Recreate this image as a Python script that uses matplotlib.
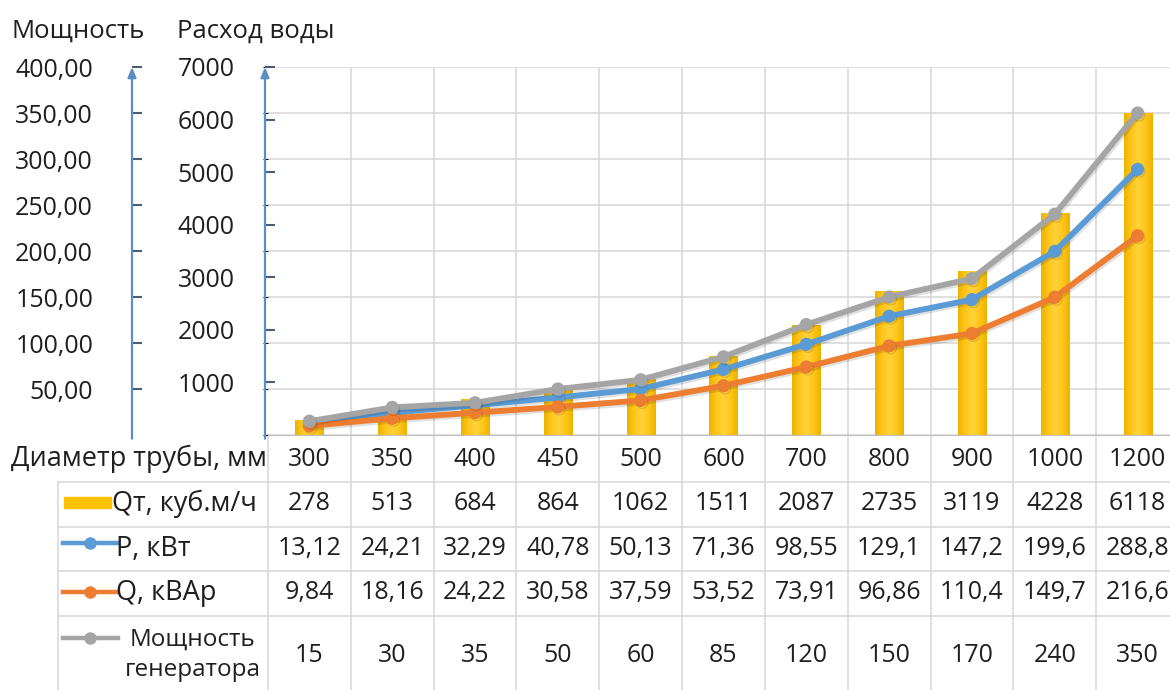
import numpy as np
import matplotlib.pyplot as plt
import matplotlib.patheffects as pe
from matplotlib import transforms
from matplotlib.colors import LinearSegmentedColormap

plt.rcParams['font.family'] = ['Open Sans', 'DejaVu Sans']

# данные по диаметрам труб
diam = ['300', '350', '400', '450', '500', '600', '700', '800', '900', '1000', '1200']
q_water = [278, 513, 684, 864, 1062, 1511, 2087, 2735, 3119, 4228, 6118]
p_kw = [13.12, 24.21, 32.29, 40.78, 50.13, 71.36, 98.55, 129.1, 147.2, 199.6, 288.8]
q_kvar = [9.84, 18.16, 24.22, 30.58, 37.59, 53.52, 73.91, 96.86, 110.4, 149.7, 216.6]
gen_power = [15, 30, 35, 50, 60, 85, 120, 150, 170, 240, 350]

power_ticks = [50, 100, 150, 200, 250, 300, 350, 400]
water_ticks = [1000, 2000, 3000, 4000, 5000, 6000, 7000]

W, H = 1170, 690
x0, x1, y_top, y_bot = 268, 1179, 67, 435

GOLD = '#FFC000'
BLUE = '#5B9BD5'
ORANGE = '#ED7D31'
GREY = '#A5A5A5'
AXIS_BLUE = '#5B8FC4'
GRID = '#D9D9D9'
TXT = '#1F1F1F'
FS = 18      # числа
FS_LAB = 19.5  # подписи строк


def fmt(v):
    return str(v).replace('.', ',')


fig = plt.figure(figsize=(W / 100, H / 100), dpi=100)

# слой для таблицы и подписей в пикселях
tab = fig.add_axes([0, 0, 1, 1])
tab.set_xlim(0, W)
tab.set_ylim(H, 0)
tab.axis('off')

# основная область: столбцы расхода воды
ax = fig.add_axes([x0 / W, (H - y_bot) / H, (x1 - x0) / W, (y_bot - y_top) / H])
x = np.arange(len(diam))
bars = ax.bar(x, q_water, width=0.34, color=GOLD, zorder=2)

grad = LinearSegmentedColormap.from_list('gold', ['#EDB300', '#FFC61A', '#FFD23A', '#FFC61A', '#EDB300'])
for b in bars:
    bx, by = b.get_x(), b.get_y()
    im = ax.imshow(np.linspace(0, 1, 64).reshape(1, -1), cmap=grad, aspect='auto',
                   extent=(bx, bx + b.get_width(), by, by + b.get_height()), zorder=2.5)
    im.set_clip_path(b)
ax.set_xlim(-0.5, 10.5)
ax.set_ylim(0, 7000)

ax.set_yticks(np.linspace(0, 7000, 9))
ax.set_xticks(np.arange(0.5, 10.5, 1), minor=True)
ax.set_xticks([])
ax.grid(True, axis='y', color=GRID, lw=1.2, zorder=0)
ax.grid(True, axis='x', which='minor', color=GRID, lw=1.2, zorder=0)
ax.tick_params(left=False, labelleft=False, which='both', bottom=False)
for s in ['top', 'right', 'left']:
    ax.spines[s].set_visible(False)
ax.spines['bottom'].set_color('#BFBFBF')
ax.set_axisbelow(True)

# линии мощностей
axl = ax.twinx()
axl.set_ylim(0, 400)
axl.axis('off')
shadow = [pe.SimpleLineShadow(offset=(1, -1.5), shadow_color='k', alpha=0.12), pe.Normal()]
for vals, col in [(p_kw, BLUE), (q_kvar, ORANGE), (gen_power, GREY)]:
    axl.plot(x, vals, color=col, lw=4.2, marker='o', ms=8.5, path_effects=shadow,
             solid_capstyle='round', clip_on=False)
axl.set_xlim(-0.5, 10.5)


def side_axis(xpx, ymax, ticks, labels, pad):
    a = fig.add_axes([xpx / W, (H - y_bot) / H, 0.0001, (y_bot - y_top) / H])
    a.set_ylim(0, ymax)
    a.set_xticks([])
    a.set_yticks(ticks)
    a.set_yticklabels(labels)
    a.tick_params(axis='y', direction='in', length=7.5, width=1.5, color='#4A5D78',
                  pad=pad, labelsize=FS, labelcolor=TXT)
    for s in a.spines.values():
        s.set_visible(False)
    a.patch.set_visible(False)
    a.annotate('', xy=(0, 1.0), xytext=(0, -0.01), xycoords='axes fraction',
               arrowprops=dict(arrowstyle='-|>,head_length=0.6,head_width=0.25',
                               color=AXIS_BLUE, lw=1.6, shrinkA=0, shrinkB=0))
    return a


side_axis(132, 400, power_ticks, [fmt('%.2f' % t) for t in power_ticks], 28)
side_axis(265, 7000, water_ticks, [str(t) for t in water_ticks], 22)

tab.text(12, 31, 'Мощность', fontsize=18.5, color=TXT, va='center')
tab.text(177, 31, 'Расход воды', fontsize=18.5, color=TXT, va='center')

# таблица данных под графиком
tr = transforms.blended_transform_factory(ax.transData, tab.transData)
rows_y = [482, 527, 571, 616]
for yy in rows_y:
    tab.plot([58, W], [yy, yy], color=GRID, lw=1.2)
tab.plot([58, 58], [482, H], color=GRID, lw=1.2)
tab.plot([x0, x0], [y_bot, H], color=GRID, lw=1.2)
for b in np.arange(0.5, 10.5, 1):
    tab.plot([b, b], [y_bot, H], color=GRID, lw=1.2, transform=tr)

tab.text(267, 459, 'Диаметр трубы, мм', fontsize=FS_LAB, color=TXT, ha='right', va='center')
row_vals = [(459, diam), (504, [fmt(v) for v in q_water]), (549, [fmt(v) for v in p_kw]),
            (593, [fmt(v) for v in q_kvar]), (656, [fmt(v) for v in gen_power])]
for yy, vals in row_vals:
    for i, s in enumerate(vals):
        tab.text(i, yy, s, fontsize=FS, color=TXT, ha='center', va='center', transform=tr)

# ключи легенды в строках таблицы
tab.add_patch(plt.Rectangle((64, 497), 47, 11, color=GOLD))
tab.text(112, 504, 'Qт, куб.м/ч', fontsize=FS_LAB, color=TXT, va='center')
for yy, ty, col, lab in [(543, 549, BLUE, 'P, кВт'), (592, 593, ORANGE, 'Q, кВАр')]:
    tab.plot([63, 118], [yy, yy], color=col, lw=3.2)
    tab.plot([90], [yy], 'o', color=col, ms=8)
    tab.text(116, ty, lab, fontsize=FS_LAB, color=TXT, va='center')
tab.plot([63, 118], [638, 638], color=GREY, lw=3.2)
tab.plot([90], [638], 'o', color=GREY, ms=8)
tab.text(193, 655, 'Мощность\nгенератора', fontsize=17.5, color=TXT, ha='center', va='center',
         multialignment='center', linespacing=1.35)

fig.savefig('out.png', dpi=100)
